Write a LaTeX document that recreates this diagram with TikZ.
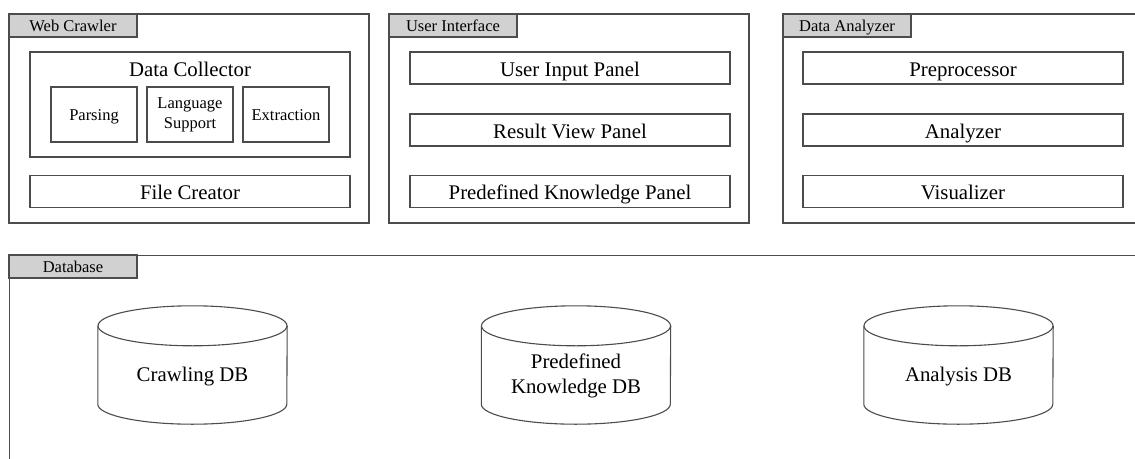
\documentclass[tikz,border=0pt]{standalone}
\usepackage{fontspec}
\setmainfont{Liberation Serif}
\usepackage{tikz}
\usetikzlibrary{calc,shapes,positioning}

\begin{document}
\begin{tikzpicture}[x=1pt, y=-1pt]
          \tikzstyle{frame} = [draw=black!70, line width=1.1pt, rectangle, inner sep=0pt]
          \tikzstyle{tab} = [frame, fill=black!18, minimum width=128pt, minimum height=23pt, text height=11.5pt, text depth=0pt, font=\fontsize{16.5}{20}\selectfont]
          \tikzstyle{panel} = [frame, minimum width=320pt, minimum height=32pt, text height=16pt, text depth=0pt, font=\fontsize{20.8}{25}\selectfont]
          \tikzstyle{sub} = [frame, minimum width=86pt, minimum height=55pt, align=center, font=\fontsize{16.5}{20}\selectfont]
          \tikzstyle{subone} = [sub, text height=11pt, text depth=0pt]
          \tikzstyle{dbbody} = [inner sep=0pt, minimum width=189pt, minimum height=118pt]
          \tikzstyle{dbtext} = [align=center, font=\fontsize{20.8}{25}\selectfont]
          \tikzstyle{cyl} = [draw=black!70, line width=1.1pt]
          \useasboundingbox (0,0) rectangle (1135,458);

          % web crawler
          \node[frame, minimum width=360pt, minimum height=209pt] (crawler) at (189,118.5) {};
          \node[tab] (crawlertab) at (73,25.5) {Web Crawler};
          \node[frame, minimum width=320pt, minimum height=105pt] (collector) at (190,104.5) {};
          \node[font=\fontsize{20.8}{25}\selectfont] (collectortitle) at (190,69) {Data Collector};
          \node[subone] (parsing) at (94,114.5) {Parsing};
          \node[sub] (langsupport) at (190,114.5) {Language\\Support};
          \node[subone] (extraction) at (286,114.5) {Extraction};
          \node[panel] (filecreator) at (190,191.5) {File Creator};

          % user interface
          \node[frame, minimum width=360pt, minimum height=209pt] (ui) at (569,118.5) {};
          \node[tab] (uitab) at (453,25.5) {User Interface};
          \node[panel] (inputpanel) at (570,68) {User Input Panel};
          \node[panel] (resultpanel) at (570,130) {Result View Panel};
          \node[panel] (knowledgepanel) at (570,191.5) {Predefined Knowledge Panel};

          % data analyzer
          \node[frame, minimum width=360pt, minimum height=209pt] (analyzer) at (963,118.5) {};
          \node[tab] (analyzertab) at (847,25.5) {Data Analyzer};
          \node[panel] (preprocessor) at (963,68) {Preprocessor};
          \node[panel] (analyzerpanel) at (963,130) {Analyzer};
          \node[panel] (visualizer) at (963,191.5) {Visualizer};

          % database
          \node[frame, anchor=north west, minimum width=1160pt, minimum height=240pt] (database) at (9,255) {};
          \node[tab] (databasetab) at (73,266.5) {Database};

          \node[dbbody] (crawldb) at (192.5,365) {};
          \node[dbbody] (knowdb) at (576,365) {};
          \node[dbbody] (analysisdb) at (958.5,365) {};

          \draw[cyl] ([yshift=-20pt]crawldb.north) ellipse [x radius=94.5pt, y radius=20pt];
          \draw[cyl] ([yshift=-20pt]crawldb.north west) -- ([yshift=20pt]crawldb.south west)
            arc [start angle=180, end angle=360, x radius=94.5pt, y radius=20pt] -- ([yshift=-20pt]crawldb.north east);
          \draw[cyl] ([yshift=-20pt]knowdb.north) ellipse [x radius=94.5pt, y radius=20pt];
          \draw[cyl] ([yshift=-20pt]knowdb.north west) -- ([yshift=20pt]knowdb.south west)
            arc [start angle=180, end angle=360, x radius=94.5pt, y radius=20pt] -- ([yshift=-20pt]knowdb.north east);
          \draw[cyl] ([yshift=-20pt]analysisdb.north) ellipse [x radius=94.5pt, y radius=20pt];
          \draw[cyl] ([yshift=-20pt]analysisdb.north west) -- ([yshift=20pt]analysisdb.south west)
            arc [start angle=180, end angle=360, x radius=94.5pt, y radius=20pt] -- ([yshift=-20pt]analysisdb.north east);

          \node[dbtext] (crawltext) at (192.5,377) {Crawling DB};
          \node[dbtext] (knowtext) at (576,376) {Predefined\\Knowledge DB};
          \node[dbtext] (analysistext) at (958.5,377) {Analysis DB};
        \end{tikzpicture}
\end{document}
